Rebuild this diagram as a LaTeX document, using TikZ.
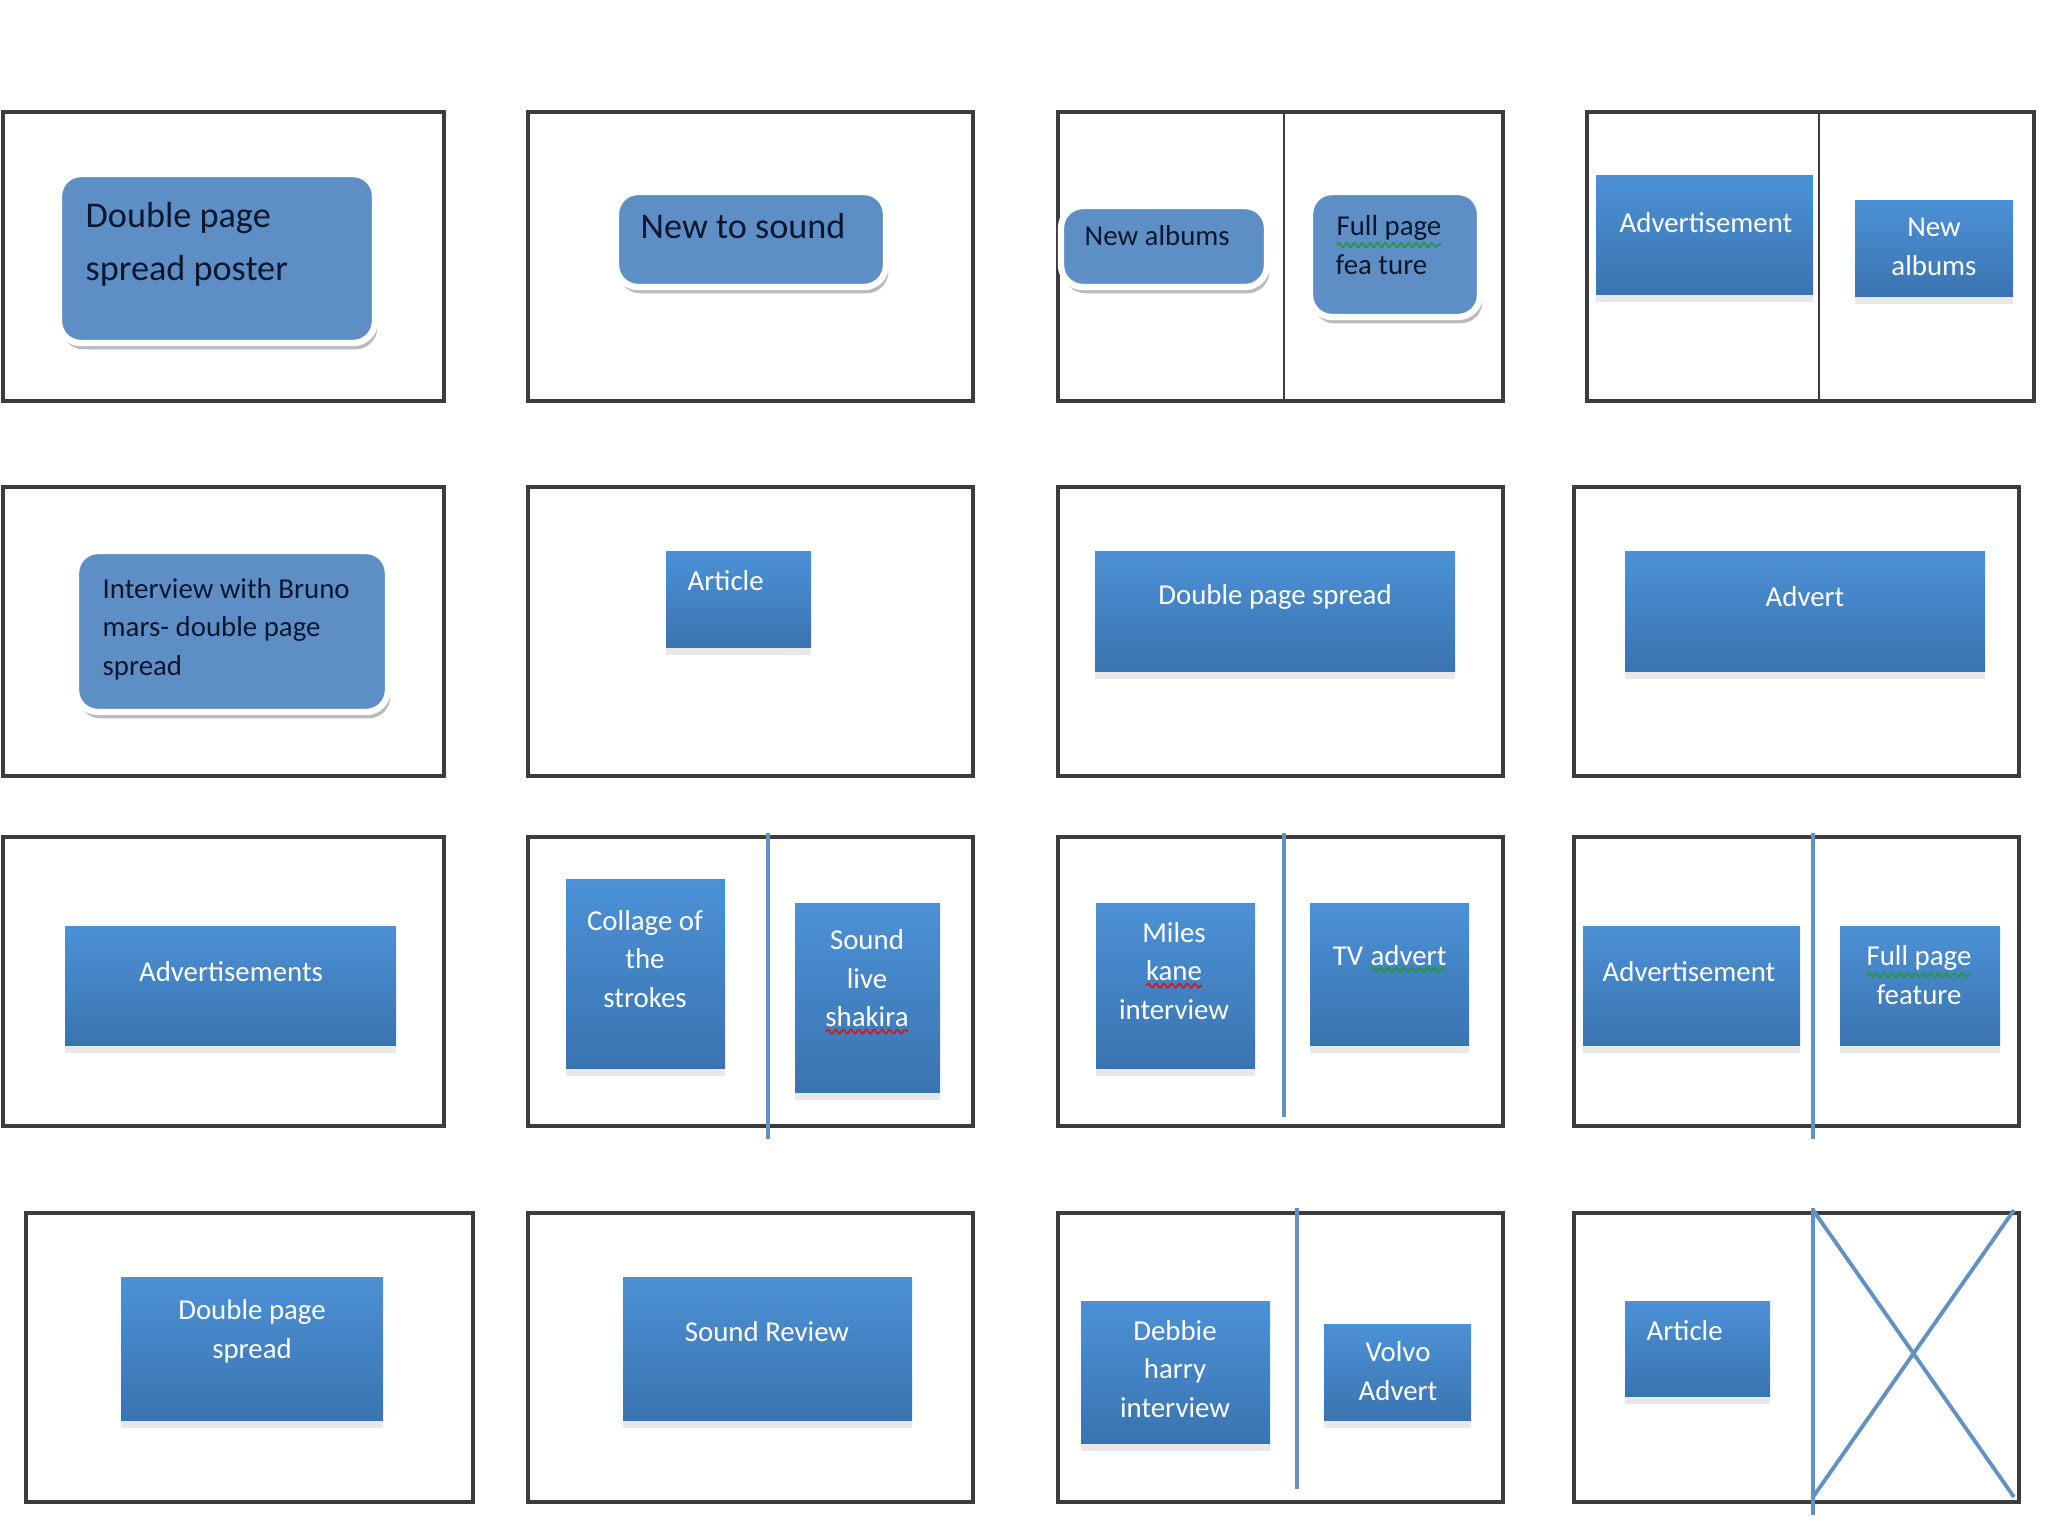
\documentclass[tikz,border=0pt]{standalone}
\usepackage{fontspec}
\setmainfont{Carlito}
\usetikzlibrary{shadows,decorations.pathmorphing}

\definecolor{cadregris}{RGB}{60,60,60}
\definecolor{bleuplat}{RGB}{93,143,198}
\definecolor{bleuhaut}{RGB}{76,145,214}
\definecolor{bleubas}{RGB}{58,116,176}
\definecolor{bleutrait}{RGB}{98,146,196}
\definecolor{texte}{RGB}{12,22,45}
\definecolor{rouge}{RGB}{200,30,40}
\definecolor{vert}{RGB}{40,150,60}

% soulignement ondule (correcteur)
\newcommand\ondule[2]{\tikz[baseline=(m.base),x=1cm,y=1cm]{%
  \node[inner sep=0pt,outer sep=0pt] (m) {#2};
  \draw[#1,line width=0.5pt,decorate,decoration={snake,amplitude=0.6pt,segment length=2.2pt}]
    ([yshift=-1.3pt]m.south west) -- ([yshift=-1.3pt]m.south east);}}

\begin{document}
\begin{tikzpicture}[
  x=0.01cm, y=-0.01cm,
  cadre/.style={draw=cadregris, line width=1.1pt},
  separe/.style={draw=cadregris, line width=0.7pt},
  trait/.style={draw=bleutrait, line width=1.1pt},
  arrondi/.style={fill=bleuplat, draw=white, line width=1.8pt, rounded corners=2.2mm,
    drop shadow={shadow xshift=0.7pt, shadow yshift=-1.8pt, opacity=0.45, fill=black!60}},
  degrade/.style={top color=bleuhaut, bottom color=bleubas,
    drop shadow={shadow xshift=0pt, shadow yshift=-2.2pt, opacity=0.18}},
  sombre/.style={text=texte, font=\fontsize{8.2}{11}\selectfont, align=left, anchor=west, inner sep=0pt},
  grand/.style={sombre, font=\fontsize{10.3}{15}\selectfont},
  blanc/.style={text=white, font=\fontsize{8.2}{11}\selectfont, align=center, inner sep=0pt},
]
  \useasboundingbox (0,0) rectangle (2048,1536);

  % Rangee 1
  \draw[cadre] (3,112) rectangle (444,401);
  \draw[cadre] (528,112) rectangle (973,401);
  \draw[cadre] (1058,112) rectangle (1503,401);
  \draw[separe] (1284,112) -- (1284,401);
  \draw[cadre] (1587,112) rectangle (2034,401);
  \draw[separe] (1819,112) -- (1819,401);

  \path[arrondi] (59,174) rectangle (375,343);
  \node[grand] (t11) at (85,244) {Double page\\spread poster};
  \path[arrondi] (616,192) rectangle (886,287);
  \node[grand] (t12) at (640,226) {New to sound};
  \path[arrondi] (1061,206) rectangle (1267,287);
  \node[sombre] (t13a) at (1084,236) {New albums};
  \path[arrondi] (1310,192) rectangle (1480,317);
  \node[sombre] (t13b) at (1335,245) {\ondule{vert}{Full page}\\fea ture};
  \path[degrade] (1596,175) rectangle (1813,294);
  \node[blanc] (t14a) at (1706,223) {Advertisement};
  \path[degrade] (1855,200) rectangle (2013,296);
  \node[blanc] (t14b) at (1934,247) {New\\albums};

  % Rangee 2
  \draw[cadre] (3,487) rectangle (444,776);
  \draw[cadre] (528,487) rectangle (973,776);
  \draw[cadre] (1058,487) rectangle (1503,776);
  \draw[cadre] (1574,487) rectangle (2019,776);

  \path[arrondi] (76,551) rectangle (388,712);
  \node[sombre] (t21) at (102,629) {Interview with Bruno\\mars- double page\\spread};
  \path[degrade] (666,551) rectangle (811,647);
  \node[blanc, anchor=west] (t22) at (687,581) {Article};
  \path[degrade] (1095,551) rectangle (1455,671);
  \node[blanc] (t23) at (1275,597) {Double page spread};
  \path[degrade] (1625,551) rectangle (1985,671);
  \node[blanc] (t24) at (1805,597) {Advert};

  % Rangee 3
  \draw[cadre] (3,837) rectangle (444,1126);
  \draw[cadre] (528,837) rectangle (973,1126);
  \draw[cadre] (1058,837) rectangle (1503,1126);
  \draw[cadre] (1574,837) rectangle (2019,1126);
  \draw[trait] (768,833) -- (768,1139);
  \draw[trait] (1284,833) -- (1284,1117);
  \draw[trait] (1813,833) -- (1813,1139);

  \path[degrade] (65,926) rectangle (396,1045);
  \node[blanc] (t31) at (231,972) {Advertisements};
  \path[degrade] (566,879) rectangle (725,1068);
  \node[blanc] (t32a) at (645,959) {Collage of\\the\\strokes};
  \path[degrade] (795,903) rectangle (940,1092);
  \node[blanc] (t32b) at (867,982) {Sound\\live\\\ondule{rouge}{shakira}};
  \path[degrade] (1096,903) rectangle (1255,1068);
  \node[blanc] (t33a) at (1174,971) {Miles\\\ondule{rouge}{kane}\\interview};
  \path[degrade] (1310,903) rectangle (1469,1045);
  \node[blanc] (t33b) at (1390,959) {TV \ondule{vert}{advert}};
  \path[degrade] (1583,926) rectangle (1800,1045);
  \node[blanc] (t34a) at (1689,972) {Advertisement};
  \path[degrade] (1840,926) rectangle (2000,1045);
  \node[blanc] (t34b) at (1919,975) {\ondule{vert}{Full page}\\feature};

  % Rangee 4
  \draw[cadre] (26,1213) rectangle (473,1502);
  \draw[cadre] (528,1213) rectangle (973,1502);
  \draw[cadre] (1058,1213) rectangle (1503,1502);
  \draw[cadre] (1574,1213) rectangle (2019,1502);
  \draw[trait] (1297,1208) -- (1297,1489);
  \draw[trait] (1813,1208) -- (1813,1515);
  \draw[trait] (1813,1210) -- (2014,1497);
  \draw[trait] (2014,1210) -- (1813,1497);

  \path[degrade] (121,1277) rectangle (383,1420);
  \node[blanc] (t41) at (252,1331) {Double page\\spread};
  \path[degrade] (623,1277) rectangle (912,1420);
  \node[blanc] (t42) at (767,1332) {Sound Review};
  \path[degrade] (1081,1301) rectangle (1270,1443);
  \node[blanc] (t43a) at (1175,1369) {Debbie\\harry\\interview};
  \path[degrade] (1324,1324) rectangle (1471,1420);
  \node[blanc] (t43b) at (1398,1371) {Volvo\\Advert};
  \path[degrade] (1625,1301) rectangle (1770,1396);
  \node[blanc, anchor=west] (t44) at (1646,1331) {Article};
\end{tikzpicture}
\end{document}
